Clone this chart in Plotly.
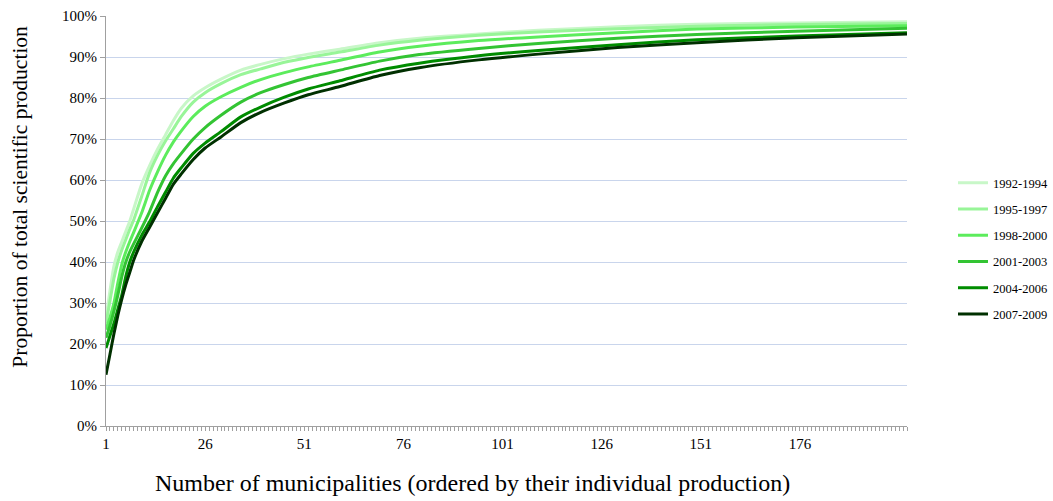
import plotly.graph_objects as go

# Number of municipalities (sample positions)
x_pos = [1, 2, 3, 4, 5, 6, 7, 8, 10, 12, 14, 16, 18, 20, 23, 26, 30, 35, 40, 46, 52, 60, 70, 80, 95, 110, 130, 150, 175, 203]

# Cumulative share of production (%)
p_1992_1994 = [26.5, 33, 39, 42.5, 45, 47.5, 50, 53, 59, 63.5, 67.5, 71, 74.5, 77.5, 80.5, 82.5, 84.6, 86.8, 88.2, 89.6, 90.7, 91.9, 93.5, 94.6, 95.6, 96.5, 97.4, 98.0, 98.3, 98.6]
p_1995_1997 = [25, 30.5, 36, 40, 43, 45.5, 48, 50.3, 56, 61.8, 66, 69.5, 72.5, 75.5, 79, 81.3, 83.5, 85.7, 87.1, 88.7, 89.9, 91.2, 92.9, 94.1, 95.3, 96.1, 96.9, 97.5, 97.9, 98.2]
p_1998_2000 = [23.5, 26.5, 30, 35, 39.5, 42.5, 45, 47.3, 52, 57.5, 62, 66, 69.3, 72, 75.5, 78, 80.3, 82.6, 84.5, 86.2, 87.6, 89.2, 91.2, 92.6, 94.0, 94.9, 95.9, 96.8, 97.3, 97.6]
p_2001_2003 = [21.5, 24.5, 28, 32, 36.5, 40, 42.5, 44.5, 48.3, 52.3, 57, 61, 64, 66.5, 70, 72.8, 75.8, 79, 81.3, 83.3, 85, 86.8, 89, 90.6, 92.1, 93.3, 94.6, 95.5, 96.3, 97.0]
p_2004_2006 = [19, 22, 25, 28.5, 32, 36.5, 40, 42.5, 46.5, 49.8, 53.5, 57, 60.5, 63, 66.5, 69, 71.8, 75.4, 77.8, 80.2, 82.2, 84.2, 86.8, 88.5, 90.3, 91.6, 93.0, 94.2, 95.1, 95.9]
p_2007_2009 = [12.5, 17.5, 22.5, 27, 31, 34.5, 37.5, 40.5, 45, 48.5, 52, 55.5, 59, 61.5, 65, 67.8, 70.5, 74, 76.5, 78.8, 80.8, 82.8, 85.5, 87.4, 89.3, 90.7, 92.3, 93.5, 94.7, 95.6]

series_names = ["1992-1994", "1995-1997", "1998-2000", "2001-2003", "2004-2006", "2007-2009"]
series_values = [p_1992_1994, p_1995_1997, p_1998_2000, p_2001_2003, p_2004_2006, p_2007_2009]
series_colors = ["#c8f7c8", "#98f598", "#5cec5c", "#33c433", "#008c00", "#003000"]

x_tick_vals = [1, 26, 51, 76, 101, 126, 151, 176]
y_tick_vals = [0, 10, 20, 30, 40, 50, 60, 70, 80, 90, 100]
y_tick_text = [f"{v}%" for v in y_tick_vals]

FONT = "Liberation Serif, Times New Roman, serif"

fig = go.Figure()
for name, vals, col in zip(series_names, series_values, series_colors):
    fig.add_trace(go.Scatter(
        x=x_pos, y=vals, name=name, mode="lines",
        line=dict(color=col, width=3, shape="spline", smoothing=0.6),
        legendgroup=name,
    ))

fig.update_layout(
    width=1053, height=501,
    paper_bgcolor="white", plot_bgcolor="white",
    margin=dict(l=106, r=146, t=16, b=75, autoexpand=False),
    font=dict(family=FONT, size=13, color="black"),
    showlegend=True,
    legend=dict(
        x=1.0574, xanchor="left", y=0.629, yanchor="top",
        font=dict(family=FONT, size=12.5, color="black"),
        tracegroupgap=7, itemwidth=30,
        bgcolor="rgba(0,0,0,0)",
    ),
)

fig.update_xaxes(
    range=[1, 203], automargin=False,
    tickmode="array", tickvals=x_tick_vals, ticktext=[str(v) for v in x_tick_vals],
    showgrid=False, zeroline=False,
    showline=True, linecolor="#a0a0a0", linewidth=1,
    ticks="outside", ticklen=4, tickcolor="#a0a0a0",
    minor=dict(ticks="outside", dtick=1, tick0=1, ticklen=4, tickcolor="#a0a0a0", showgrid=False),
    tickfont=dict(family=FONT, size=15, color="black"),
)
fig.update_yaxes(
    range=[0, 100], automargin=False,
    tickmode="array", tickvals=y_tick_vals, ticktext=y_tick_text,
    showgrid=True, gridcolor="#c9d5ec", gridwidth=1,
    zeroline=False,
    showline=True, linecolor="#a0a0a0", linewidth=1,
    ticks="outside", ticklen=5, tickcolor="#a0a0a0",
    tickfont=dict(family=FONT, size=15, color="black"),
)

fig.add_annotation(
    text="Number of municipalities (ordered by their individual production)",
    xref="paper", yref="paper", x=0.457, y=-0.139, xanchor="center", yanchor="middle",
    showarrow=False, font=dict(family=FONT, size=24, color="black"),
)
fig.add_annotation(
    text="Proportion of total scientific production",
    xref="paper", yref="paper", x=-0.107, y=0.56, xanchor="center", yanchor="middle",
    textangle=-90, showarrow=False, font=dict(family=FONT, size=21.5, color="black"),
)

fig.write_html(
    "out.html",
    config={"displayModeBar": False},
    post_script="document.body.style.margin='0';document.body.style.overflow='hidden';",
)
